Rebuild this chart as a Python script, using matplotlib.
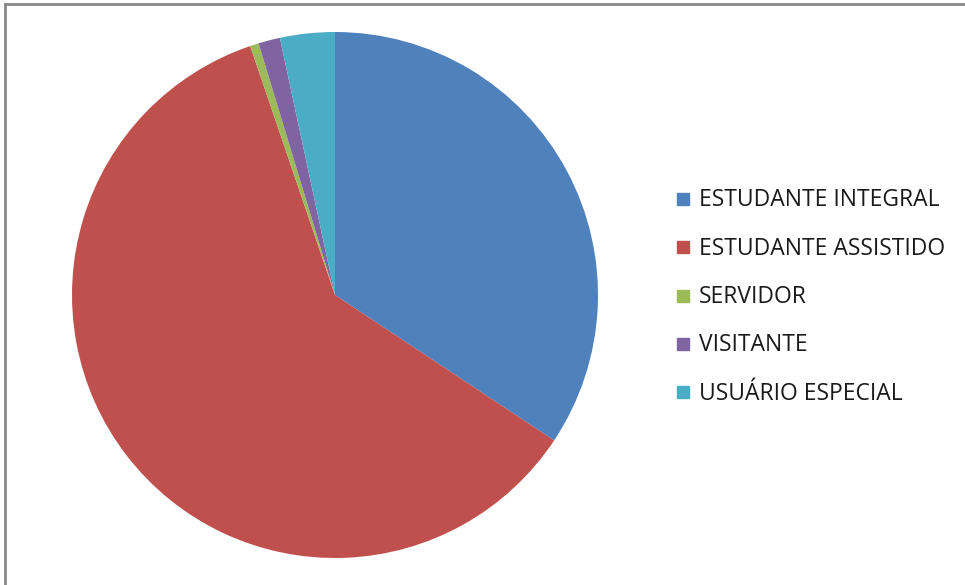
import matplotlib.pyplot as plt
from matplotlib.patches import Rectangle
from matplotlib.lines import Line2D

categories = ['ESTUDANTE INTEGRAL', 'ESTUDANTE ASSISTIDO', 'SERVIDOR',
              'VISITANTE', 'USUÁRIO ESPECIAL']
values = [34.3, 60.4, 0.53, 1.33, 3.36]
colors = ['#4F81BD', '#C0504D', '#9BBB59', '#8064A2', '#4BACC6']

W, H = 965, 585
fig = plt.figure(figsize=(W / 100, H / 100), dpi=100)

# pie axes: centre (335, 295), radius 263 px
cx, cy, r = 335, 295, 263
ax = fig.add_axes([(cx - r) / W, (H - cy - r) / H, 2 * r / W, 2 * r / H])
ax.pie(values, colors=colors, startangle=90, counterclock=False, radius=1,
       wedgeprops=dict(linewidth=0))
ax.set_xlim(-1, 1)
ax.set_ylim(-1, 1)
ax.set_aspect('equal')
ax.axis('off')

# legend drawn by hand, Excel style
for i, (lab, col) in enumerate(zip(categories, colors)):
    y = 199 + i * 48.3
    fig.patches.append(Rectangle((677 / W, 1 - (y + 6) / H), 12 / W, 12 / H,
                                 transform=fig.transFigure, color=col))
    fig.text(699 / W, 1 - (y + 1.5) / H, lab, fontsize=16.5, family='Open Sans',
             color='#1a1a1a', va='center', ha='left')

# chart area border (top and left visible)
fig.add_artist(Line2D([4.5 / W, 4.5 / W], [0, 1 - 4 / H], transform=fig.transFigure,
                      color='#8a8a8a', linewidth=2))
fig.add_artist(Line2D([4.5 / W, 1], [1 - 4 / H, 1 - 4 / H], transform=fig.transFigure,
                      color='#8a8a8a', linewidth=2))

fig.savefig('out.png', dpi=100)
